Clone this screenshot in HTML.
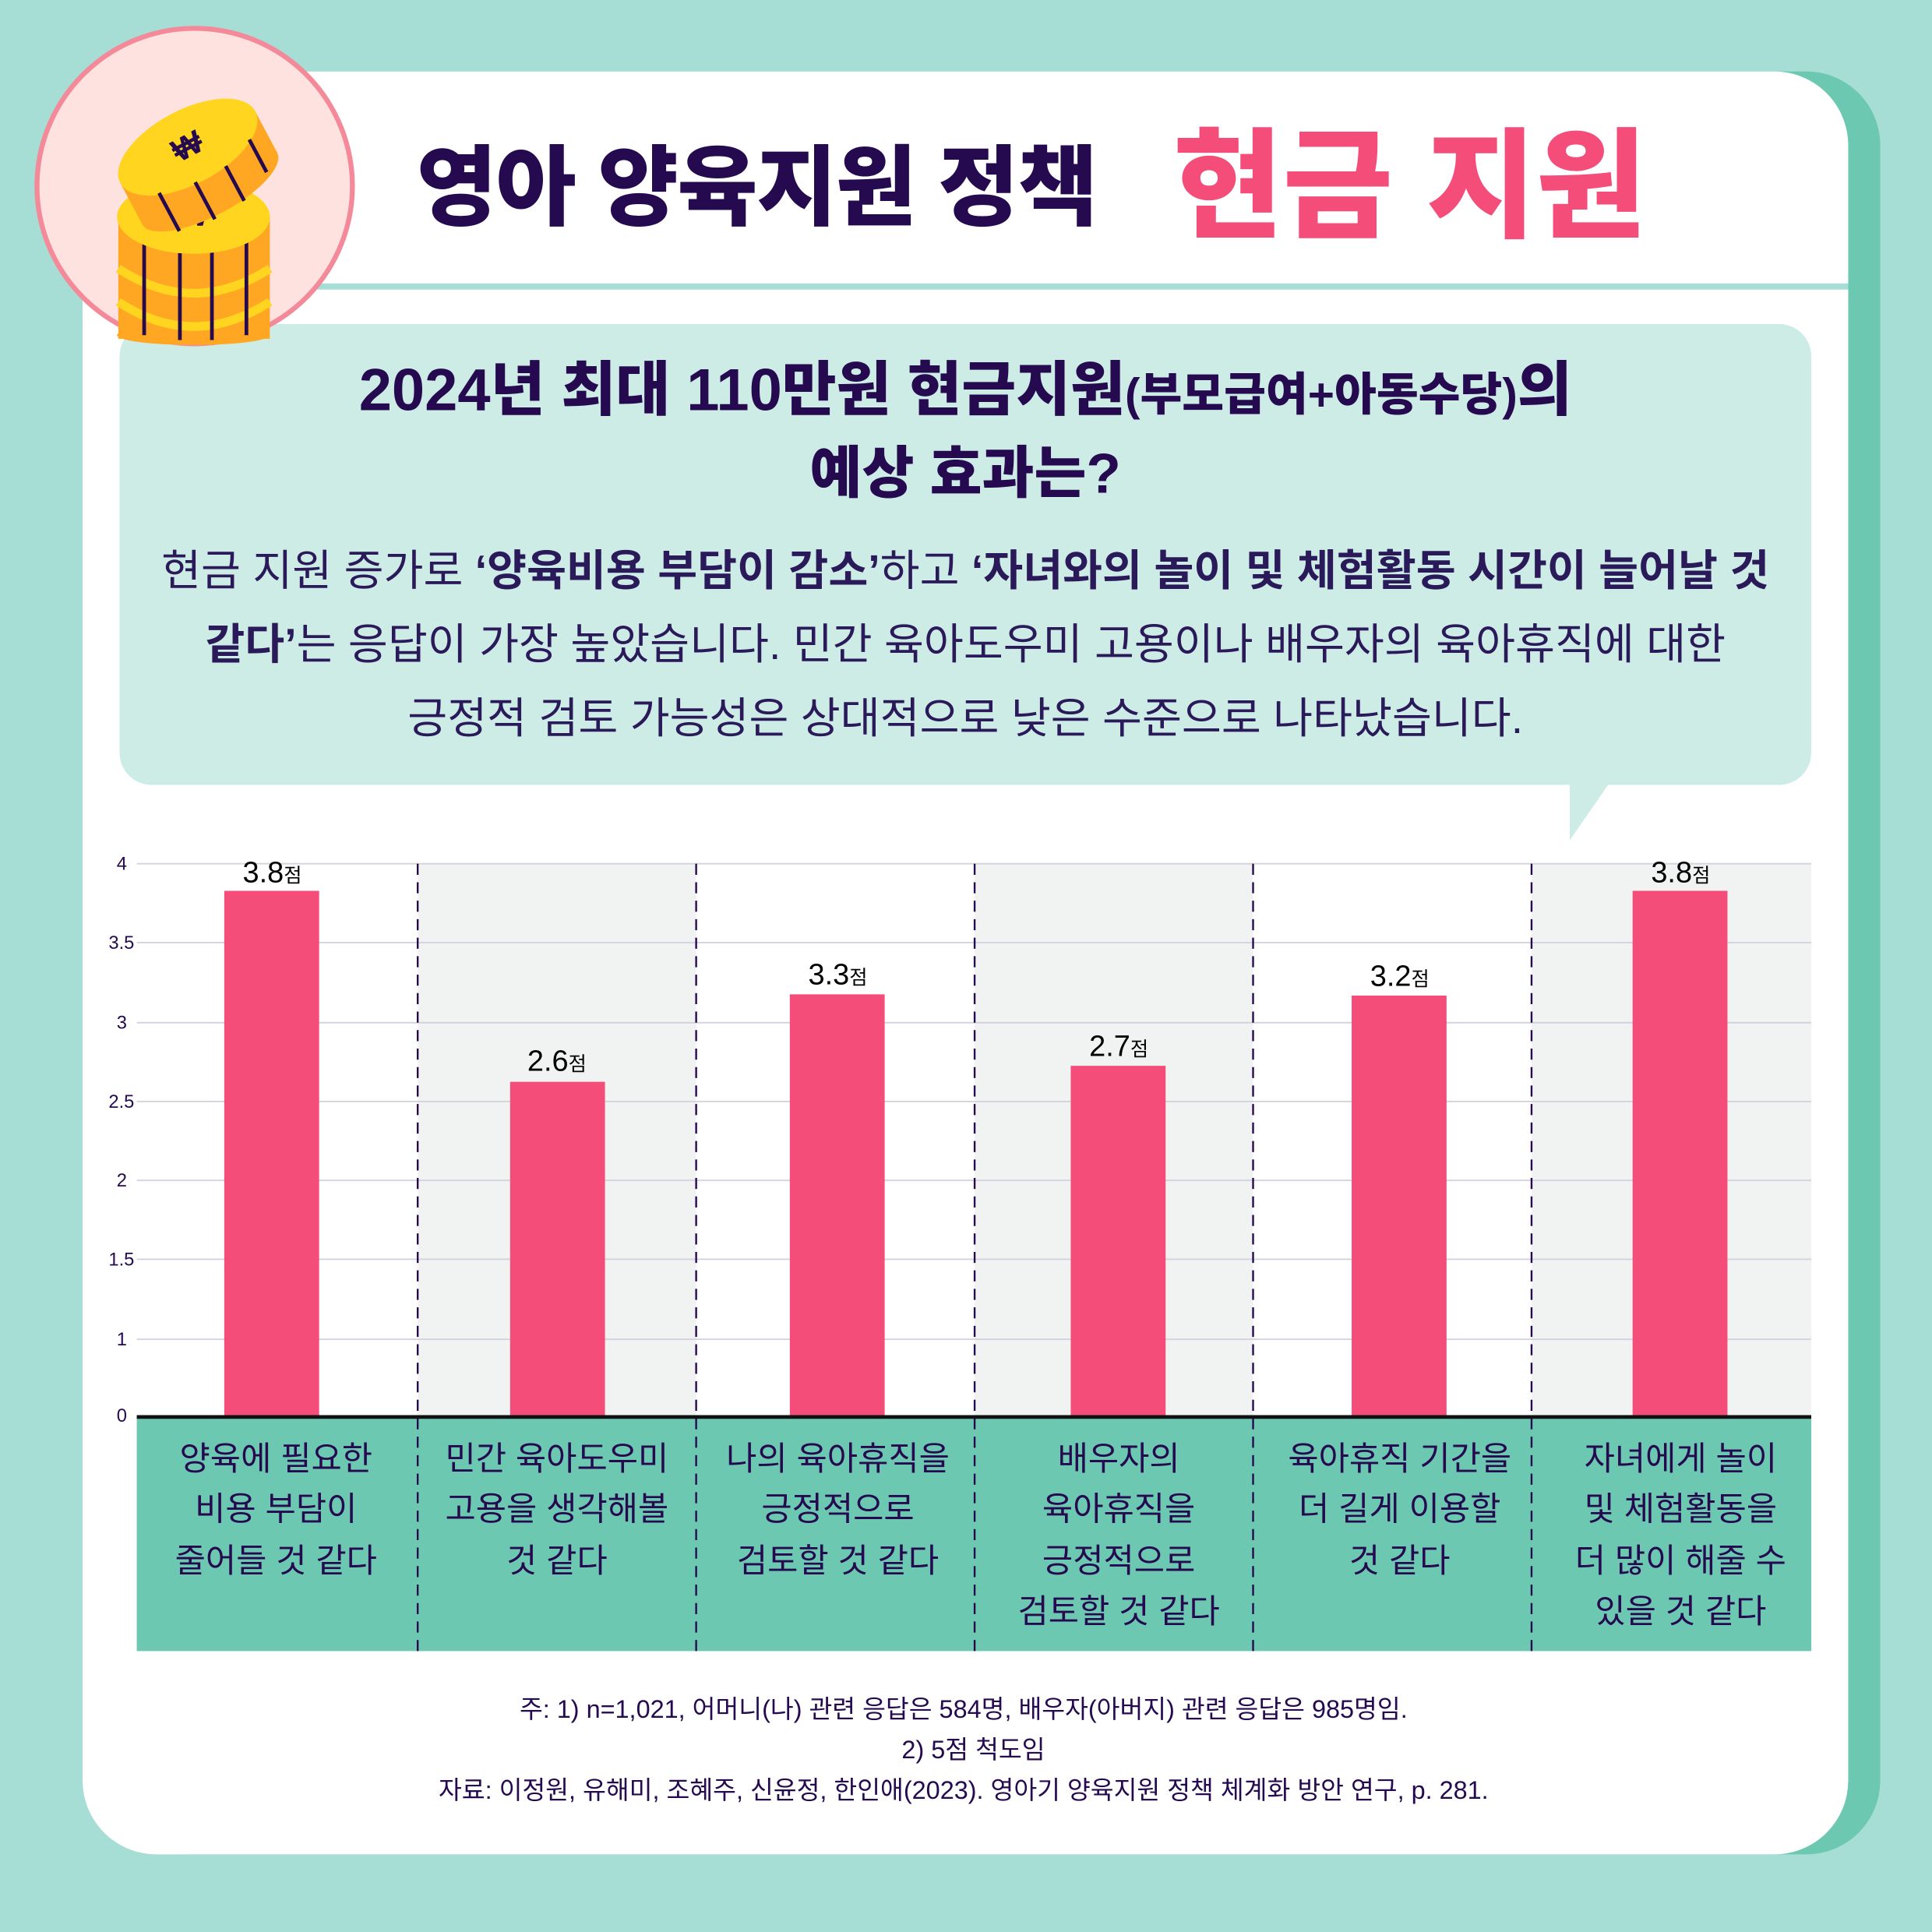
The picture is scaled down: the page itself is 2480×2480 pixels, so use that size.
<!DOCTYPE html>
<html><head><meta charset="utf-8"><style>
html,body{margin:0;padding:0;}
body{width:2480px;height:2480px;overflow:hidden;background:#a6ded5;}
#s{position:absolute;left:0;top:0;width:1568px;height:1568px;transform:scale(1.581633);transform-origin:0 0;font-family:"Liberation Sans","Noto Sans CJK KR",sans-serif;color:#250a50;}
.a{position:absolute;}
.c{position:absolute;text-align:center;white-space:nowrap;}
</style></head><body><div id="s">
<div class="a" style="left:92px;top:58px;width:1434px;height:1447px;background:#6cc8b0;border-radius:60px;"></div>
<div class="a" style="left:67px;top:58px;width:1433px;height:1447px;background:#fff;border-radius:60px;"></div>
<div class="a" style="left:250px;top:230px;width:1250px;height:5px;background:#a6ded5;"></div>
<div class="a" style="left:338px;top:96px;font-size:71px;font-weight:900;letter-spacing:-1px;white-space:nowrap;">영아 양육지원 정책</div>
<div class="a" style="left:952px;top:72px;font-size:97px;font-weight:900;color:#f44d7a;white-space:nowrap;">현금 지원</div>
<div class="a" style="left:97px;top:263px;width:1373px;height:374px;background:#ceece6;border-radius:26px;"></div>
<svg class="a" style="left:1270px;top:630px" width="50" height="60"><polygon points="4,0 40,0 4,52" fill="#ceece6"/></svg>
<svg class="a" style="left:0;top:0" width="300" height="300">
<circle cx="158" cy="151" r="128" fill="#fde2df" stroke="#f4899a" stroke-width="4"/>
<rect x="96" y="175" width="123" height="100" fill="#ffa722"/>
<ellipse cx="157" cy="272" rx="62" ry="8" fill="#ffa722"/>
<path d="M96 218 q61 40 123 0" stroke="#ffd51f" stroke-width="7" fill="none"/>
<path d="M96 245 q61 40 123 0" stroke="#ffd51f" stroke-width="7" fill="none"/>
<g stroke="#250a50" stroke-width="3"><line x1="117" y1="192" x2="117" y2="272"/><line x1="146" y1="200" x2="146" y2="276"/><line x1="172" y1="200" x2="172" y2="276"/><line x1="200" y1="192" x2="200" y2="272"/></g>
<ellipse cx="157" cy="176" rx="62" ry="30" fill="#ffd51f"/>
<text x="157" y="183" font-size="26" font-weight="bold" text-anchor="middle" fill="#250a50">₩</text>
<g transform="rotate(-28 158 130)">
<rect x="96" y="118" width="124" height="38" fill="#ffa722"/>
<ellipse cx="158" cy="156" rx="62" ry="22" fill="#ffa722"/>
<ellipse cx="158" cy="118" rx="62" ry="30" fill="#ffd51f"/>
<g stroke="#250a50" stroke-width="3"><line x1="120" y1="140" x2="120" y2="175"/><line x1="150" y1="146" x2="150" y2="180"/><line x1="178" y1="146" x2="178" y2="178"/><line x1="205" y1="136" x2="205" y2="166"/></g>
<text x="158" y="126" font-size="26" font-weight="bold" text-anchor="middle" fill="#250a50">₩</text>
</g>
</svg>
<div class="c" style="left:97px;width:1373px;top:290px;font-size:48px;font-weight:900;line-height:56px;">2024년 최대 110만원 현금지원<span style="font-size:37px">(부모급여+아동수당)</span>의</div>
<div class="c" style="left:97px;width:1373px;top:356px;font-size:46px;font-weight:900;line-height:56px;">예상 효과는?</div>
<div class="c" style="left:97px;width:1373px;top:434px;font-size:35px;line-height:60px;color:#2a1a5a;">현금 지원 증가로 <b>‘양육비용 부담이 감소’</b>하고 <b>‘자녀와의 놀이 및 체험활동 시간이 늘어날 것<br>같다’</b>는 응답이 가장 높았습니다. 민간 육아도우미 고용이나 배우자의 육아휴직에 대한<br>긍정적 검토 가능성은 상대적으로 낮은 수준으로 나타났습니다.</div>
<svg class="a" style="left:0;top:0" width="1568" height="1568" font-family="Liberation Sans, Noto Sans CJK KR, sans-serif">
<g fill="#f1f3f2"><rect x="339" y="701" width="226" height="449"/><rect x="791" y="701" width="226" height="449"/><rect x="1243" y="701" width="227" height="449"/></g>
<g stroke="#d4d2de" stroke-width="1.2">
<line x1="111" y1="701" x2="1470" y2="701"/><line x1="111" y1="765" x2="1470" y2="765"/><line x1="111" y1="830" x2="1470" y2="830"/><line x1="111" y1="894" x2="1470" y2="894"/><line x1="111" y1="958" x2="1470" y2="958"/><line x1="111" y1="1022" x2="1470" y2="1022"/><line x1="111" y1="1087" x2="1470" y2="1087"/></g>
<g font-size="15" fill="#250a50" text-anchor="end"><text x="103" y="706">4</text><text x="109" y="770">3.5</text><text x="103" y="835">3</text><text x="109" y="899">2.5</text><text x="103" y="963">2</text><text x="109" y="1027">1.5</text><text x="103" y="1092">1</text><text x="103" y="1154">0</text></g>
<rect x="111" y="1151" width="1359" height="189" fill="#6cc8b0"/>
<g stroke="#250a50" stroke-width="1.5" stroke-dasharray="9,6"><line x1="339" y1="701" x2="339" y2="1340"/><line x1="565" y1="701" x2="565" y2="1340"/><line x1="791" y1="701" x2="791" y2="1340"/><line x1="1017" y1="701" x2="1017" y2="1340"/><line x1="1243" y1="701" x2="1243" y2="1340"/></g>
<g fill="#f44d7a"><rect x="182" y="723" width="77" height="427"/><rect x="414" y="878" width="77" height="272"/><rect x="641" y="807" width="77" height="343"/><rect x="869" y="865" width="77" height="285"/><rect x="1097" y="808" width="77" height="342"/><rect x="1325" y="723" width="77" height="427"/></g>
<line x1="111" y1="1150" x2="1470" y2="1150" stroke="#111" stroke-width="3"/>
<g font-size="24" fill="#000" text-anchor="middle"><text x="221" y="716">3.8<tspan font-size="16">점</tspan></text><text x="452" y="869">2.6<tspan font-size="16">점</tspan></text><text x="680" y="799">3.3<tspan font-size="16">점</tspan></text><text x="908" y="857">2.7<tspan font-size="16">점</tspan></text><text x="1136" y="800">3.2<tspan font-size="16">점</tspan></text><text x="1364" y="716">3.8<tspan font-size="16">점</tspan></text></g>
<g font-size="27" fill="#250a50" text-anchor="middle">
<text x="224" y="1193">양육에 필요한</text><text x="224" y="1234">비용 부담이</text><text x="224" y="1276">줄어들 것 같다</text>
<text x="452" y="1193">민간 육아도우미</text><text x="452" y="1234">고용을 생각해볼</text><text x="452" y="1276">것 같다</text>
<text x="680" y="1193">나의 육아휴직을</text><text x="680" y="1234">긍정적으로</text><text x="680" y="1276">검토할 것 같다</text>
<text x="908" y="1193">배우자의</text><text x="908" y="1234">육아휴직을</text><text x="908" y="1276">긍정적으로</text><text x="908" y="1317">검토할 것 같다</text>
<text x="1136" y="1193">육아휴직 기간을</text><text x="1136" y="1234">더 길게 이용할</text><text x="1136" y="1276">것 같다</text>
<text x="1364" y="1193">자녀에게 놀이</text><text x="1364" y="1234">및 체험활동을</text><text x="1364" y="1276">더 많이 해줄 수</text><text x="1364" y="1317">있을 것 같다</text></g>
<g font-size="20.5" fill="#250a50" text-anchor="middle"><text x="782" y="1394">주: 1) n=1,021, 어머니(나) 관련 응답은 584명, 배우자(아버지) 관련 응답은 985명임.</text><text x="790" y="1427">2) 5점 척도임</text><text x="782" y="1460">자료: 이정원, 유해미, 조혜주, 신윤정, 한인애(2023). 영아기 양육지원 정책 체계화 방안 연구, p. 281.</text></g>
</svg>
</div></body></html>
